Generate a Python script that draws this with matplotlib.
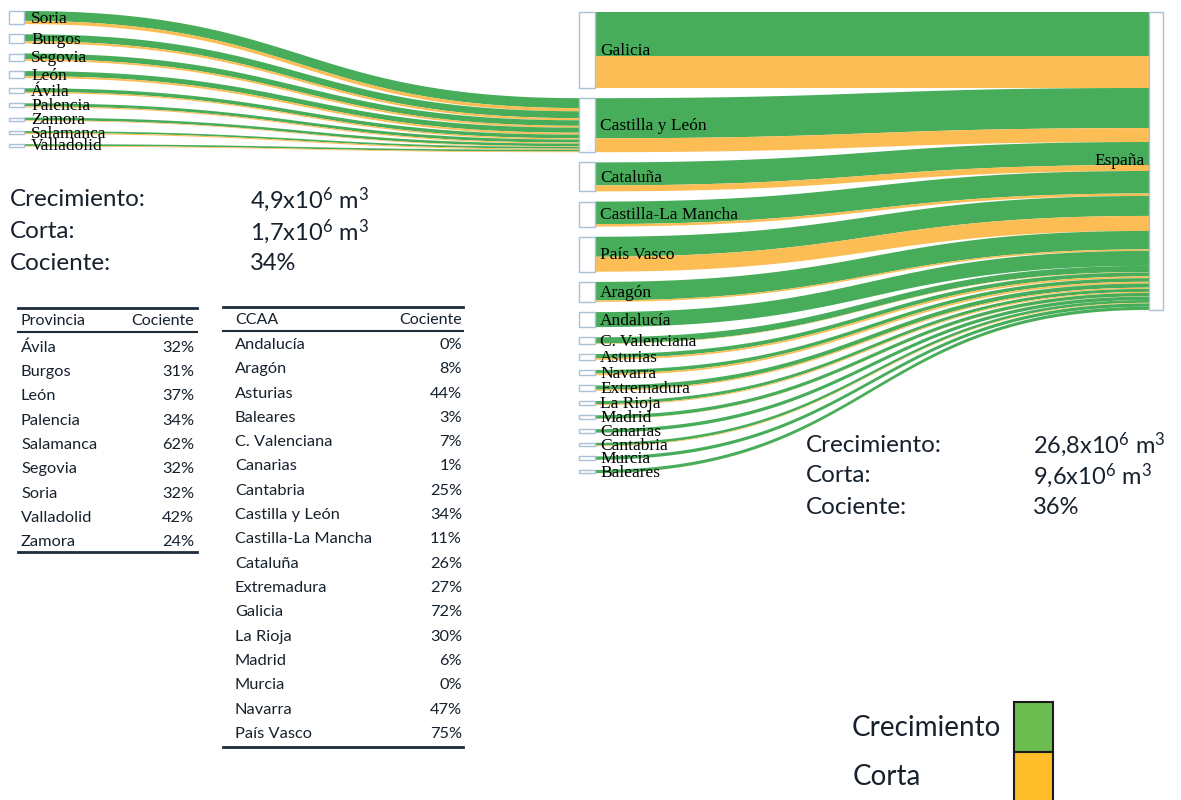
import numpy as np
import matplotlib.pyplot as plt
from matplotlib.patches import Rectangle

plt.rcParams['font.family'] = ['Lato', 'DejaVu Sans']
plt.rcParams['mathtext.fontset'] = 'custom'
plt.rcParams['mathtext.rm'] = 'Lato'
plt.rcParams['mathtext.it'] = 'Lato:italic'
plt.rcParams['mathtext.bf'] = 'Lato:bold'

# comunidades autonomas (orden del diagrama), 10^6 m3
ccaa = ['Galicia', 'Castilla y León', 'Cataluña', 'Castilla-La Mancha', 'País Vasco',
        'Aragón', 'Andalucía', 'C. Valenciana', 'Asturias', 'Navarra', 'Extremadura',
        'La Rioja', 'Madrid', 'Canarias', 'Cantabria', 'Murcia', 'Baleares']
ccaa_crec = [5.40, 4.90, 2.81, 2.75, 2.44, 2.26, 1.83, 0.75, 0.49, 0.44, 0.51,
             0.38, 0.42, 0.42, 0.34, 0.40, 0.39]
ccaa_corta = [3.88, 1.70, 0.73, 0.30, 1.83, 0.18, 0.00, 0.05, 0.21, 0.21, 0.14,
              0.12, 0.03, 0.00, 0.08, 0.00, 0.01]

# provincias de Castilla y Leon
provincias = ['Soria', 'Burgos', 'Segovia', 'León', 'Ávila', 'Palencia', 'Zamora',
              'Salamanca', 'Valladolid']
prov_crec = [1.21, 0.84, 0.68, 0.62, 0.45, 0.37, 0.32, 0.22, 0.21]
prov_corta = [0.39, 0.26, 0.22, 0.23, 0.15, 0.13, 0.08, 0.13, 0.09]

# tablas
tabla_prov = ['Ávila', 'Burgos', 'León', 'Palencia', 'Salamanca', 'Segovia', 'Soria',
              'Valladolid', 'Zamora']
cociente_prov = ['32%', '31%', '37%', '34%', '62%', '32%', '32%', '42%', '24%']
tabla_ccaa = ['Andalucía', 'Aragón', 'Asturias', 'Baleares', 'C. Valenciana', 'Canarias',
              'Cantabria', 'Castilla y León', 'Castilla-La Mancha', 'Cataluña',
              'Extremadura', 'Galicia', 'La Rioja', 'Madrid', 'Murcia', 'Navarra',
              'País Vasco']
cociente_ccaa = ['0%', '8%', '44%', '3%', '7%', '1%', '25%', '34%', '11%', '26%',
                 '27%', '72%', '30%', '6%', '0%', '47%', '75%']

etiquetas = ['Crecimiento:', 'Corta:', 'Cociente:']
resumen_cyl = ['4,9x10$^6$ m$^3$', '1,7x10$^6$ m$^3$', '34%']
resumen_esp = ['26,8x10$^6$ m$^3$', '9,6x10$^6$ m$^3$', '36%']

green = '#48ad5b'
orange = '#fcbd55'
box_ec = '#a9c1d9'
txt = '#16212d'
serif = ['Liberation Serif', 'DejaVu Serif']

fig = plt.figure(figsize=(11.81, 8), dpi=100)
ax = fig.add_axes([0, 0, 1, 1])
ax.set_xlim(0, 1181)
ax.set_ylim(800, 0)
ax.axis('off')

t = np.linspace(0, 1, 80)


def ribbon(x0, x1, a0, b0, a1, b1, color):
    xm = (x0 + x1) / 2
    bx = (1-t)**3*x0 + 3*(1-t)**2*t*xm + 3*(1-t)*t**2*xm + t**3*x1
    top = (1-t)**3*a0 + 3*(1-t)**2*t*a0 + 3*(1-t)*t**2*a1 + t**3*a1
    bot = (1-t)**3*b0 + 3*(1-t)**2*t*b0 + 3*(1-t)*t**2*b1 + t**3*b1
    ax.fill(np.r_[bx, bx[::-1]], np.r_[top, bot[::-1]], color=color, lw=0, zorder=1)


def box(x, y, w, h):
    ax.add_patch(Rectangle((x, y), w, max(h, 1.5), fc='white', ec=box_ec, lw=1, zorder=2))


# escala: caja de España de y=12 a y=310
total = sum(ccaa_crec) + sum(ccaa_corta)
k = 298 / total
gap = 10.2

# diagrama derecho: CCAA -> España
nx0, nx1 = 579, 595
ex0, ex1 = 1149, 1163
y = 12
ye = 12
cyl_top = None
for name, c, s in zip(ccaa, ccaa_crec, ccaa_corta):
    h = (c + s) * k
    ribbon(nx1, ex0, y, y + c*k, ye, ye + c*k, green)
    if s > 0:
        ribbon(nx1, ex0, y + c*k, y + h, ye + c*k, ye + h, orange)
    box(nx0, y, nx1 - nx0, h)
    ax.text(600, y + h/2 + 1, name, family=serif, fontsize=12.5, va='center', ha='left', zorder=3)
    if name == 'Castilla y León':
        cyl_top = y
    y += h + gap
    ye += h
box(ex0, 12, ex1 - ex0, ye - 12)
ax.text(1145, (12 + ye) / 2, 'España', family=serif, fontsize=12.5, va='center', ha='right', zorder=3)

# diagrama izquierdo: provincias -> Castilla y León
px0, px1 = 9, 24
y = 11
ye = cyl_top
for name, c, s in zip(provincias, prov_crec, prov_corta):
    h = (c + s) * k
    ribbon(px1, nx0, y, y + c*k, ye, ye + c*k, green)
    ribbon(px1, nx0, y + c*k, y + h, ye + c*k, ye + h, orange)
    box(px0, y, px1 - px0, h)
    ax.text(31, y + h/2 + 1, name, family=serif, fontsize=12.5, va='center', ha='left', zorder=3)
    y += h + gap
    ye += h

# resúmenes
for i, lab in enumerate(etiquetas):
    ax.text(10, 200 + 32*i, lab, fontsize=17.5, color=txt, va='center', ha='left')
    ax.text(250, 200 + 32*i, resumen_cyl[i], fontsize=17, color=txt, va='center', ha='left')
    ax.text(806, 445 + 31*i, lab, fontsize=17.5, color=txt, va='center', ha='left')
    ax.text(1033, 445 + 31*i, resumen_esp[i], fontsize=17, color=txt, va='center', ha='left')

# tabla provincias
line_c = '#1d2b3a'
ax.plot([18, 197], [308, 308], color=line_c, lw=2)
ax.plot([18, 197], [332, 332], color=line_c, lw=1.5)
ax.plot([18, 197], [552, 552], color=line_c, lw=2)
ax.text(21, 321, 'Provincia', fontsize=11.5, color=txt, va='center', ha='left')
ax.text(194, 321, 'Cociente', fontsize=11.5, color=txt, va='center', ha='right')
for i, (n, v) in enumerate(zip(tabla_prov, cociente_prov)):
    ax.text(21, 348 + 24.25*i, n, fontsize=11.8, color=txt, va='center', ha='left')
    ax.text(194, 348 + 24.25*i, v, fontsize=11.8, color=txt, va='center', ha='right')

# tabla CCAA
ax.plot([223, 463], [307, 307], color=line_c, lw=2)
ax.plot([223, 463], [331, 331], color=line_c, lw=1.5)
ax.plot([223, 463], [747, 747], color=line_c, lw=2)
ax.text(235, 320, 'CCAA', fontsize=11.5, color=txt, va='center', ha='left')
ax.text(462, 320, 'Cociente', fontsize=11.5, color=txt, va='center', ha='right')
for i, (n, v) in enumerate(zip(tabla_ccaa, cociente_ccaa)):
    ax.text(235, 345 + 24.3*i, n, fontsize=11.8, color=txt, va='center', ha='left')
    ax.text(462, 345 + 24.3*i, v, fontsize=11.8, color=txt, va='center', ha='right')

# leyenda
ax.add_patch(Rectangle((1014, 702), 39, 50, fc='#6dbe50', ec='#1a1a1a', lw=1.5))
ax.add_patch(Rectangle((1014, 752), 39, 52, fc='#fdbe2a', ec='#1a1a1a', lw=1.5))
ax.text(1001, 728, 'Crecimiento', fontsize=20, color=txt, va='center', ha='right')
ax.text(853, 777, 'Corta', fontsize=20, color=txt, va='center', ha='left')

fig.savefig('out.png', dpi=100, facecolor='white')
